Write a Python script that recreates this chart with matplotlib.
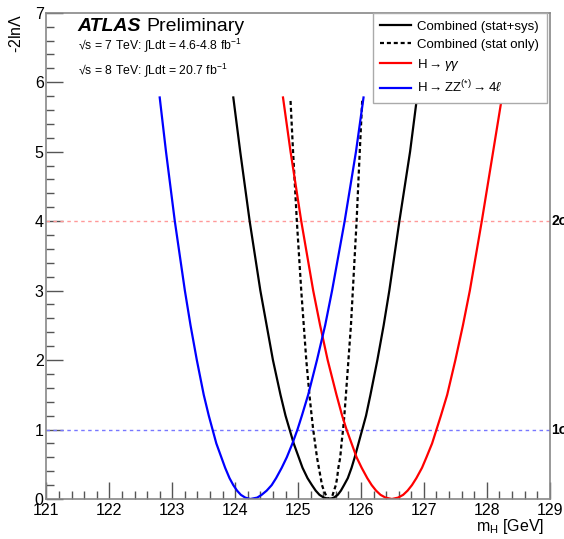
import numpy as np
import matplotlib
matplotlib.use("Agg")
import matplotlib.pyplot as plt

plt.rcParams['font.family'] = ['Liberation Sans', 'DejaVu Sans']
plt.rcParams['mathtext.fontset'] = 'custom'
plt.rcParams['mathtext.rm'] = 'Liberation Sans'
plt.rcParams['mathtext.it'] = 'Liberation Sans:italic'
plt.rcParams['mathtext.bf'] = 'Liberation Sans:bold'

# -2lnL scan points (left branch, minimum, right branch)
y_lvl = [5.78, 5.0, 4.0, 3.0, 2.5, 2.0, 1.5, 1.2, 1.0, 0.8, 0.6, 0.45, 0.3, 0.2, 0.12, 0.06, 0.02, 0.0,
         0.02, 0.06, 0.12, 0.2, 0.3, 0.45, 0.6, 0.8, 1.0, 1.2, 1.5, 2.0, 2.5, 3.0, 4.0, 5.0, 5.78]
mh_zz = [122.80, 122.90, 123.04, 123.20, 123.29, 123.39, 123.50, 123.58, 123.64, 123.70, 123.78, 123.84,
         123.91, 123.97, 124.03, 124.09, 124.16, 124.24,
         124.35, 124.42, 124.50, 124.58, 124.65, 124.74, 124.82, 124.91, 124.99, 125.06, 125.16, 125.30,
         125.43, 125.54, 125.74, 125.92, 126.04]
mh_comb = [123.97, 124.08, 124.23, 124.40, 124.50, 124.60, 124.72, 124.80, 124.865, 124.93, 125.01, 125.07,
           125.15, 125.22, 125.28, 125.34, 125.41, 125.50,
           125.57, 125.63, 125.68, 125.73, 125.79, 125.85, 125.90, 125.96, 126.02, 126.08, 126.15, 126.26,
           126.36, 126.45, 126.61, 126.78, 126.89]
mh_gg = [124.76, 124.88, 125.05, 125.24, 125.35, 125.47, 125.61, 125.70, 125.77, 125.85, 125.93, 126.01,
         126.10, 126.17, 126.24, 126.31, 126.39, 126.49,
         126.59, 126.67, 126.74, 126.81, 126.88, 126.97, 127.04, 127.13, 127.20, 127.27, 127.37, 127.50,
         127.62, 127.73, 127.92, 128.10, 128.24]
y_stat = [5.73, 5.0, 4.0, 3.0, 2.5, 2.0, 1.5, 1.2, 1.0, 0.8, 0.6, 0.45, 0.3, 0.2, 0.12, 0.06, 0.02, 0.0,
          0.02, 0.06, 0.12, 0.2, 0.3, 0.45, 0.6, 0.8, 1.0, 1.2, 1.5, 2.0, 2.5, 3.0, 4.0, 5.0, 5.75]
mh_stat = [124.88, 124.92, 124.98, 125.05, 125.09, 125.13, 125.18, 125.215, 125.24, 125.27, 125.30, 125.33,
           125.36, 125.38, 125.41, 125.44, 125.46, 125.50,
           125.53, 125.55, 125.57, 125.60, 125.62, 125.64, 125.67, 125.69, 125.715, 125.735, 125.76, 125.80,
           125.84, 125.87, 125.93, 125.98, 126.02]

sigma_levels = [1, 4]
sigma_labels = ["1σ", "2σ"]
sigma_colors = ["#7777ff", "#ff9999"]

fig = plt.figure(figsize=(5.64, 5.39), dpi=100)
ax = fig.add_axes([0.0824, 0.0742, 0.8923, 0.9022])

for lev, col in zip(sigma_levels, sigma_colors):
    ax.axhline(lev, color=col, lw=1.0, dashes=(2.5, 2.5))

ax.plot(mh_comb, y_lvl, color='black', lw=1.6, label='Combined (stat+sys)')
ax.plot(mh_stat, y_stat, color='black', lw=1.6, dashes=(1.8, 1.3), label='Combined (stat only)')
ax.plot(mh_gg, y_lvl, color='red', lw=1.6, label=r'H$\rightarrow\gamma\gamma$')
ax.plot(mh_zz, y_lvl, color='blue', lw=1.6, label=r'H$\rightarrow$ZZ$^{(*)}\rightarrow$4$\ell$')

ax.set_xlim(121, 129)
ax.set_ylim(0, 7)
ax.set_xticks(np.arange(121, 130, 1))
ax.set_xticks(np.arange(121, 129.01, 0.2), minor=True)
ax.set_yticks(np.arange(0, 8, 1))
ax.set_yticks(np.arange(0, 7.01, 0.2), minor=True)
ax.tick_params(which='both', direction='in', color='#555555', top=False, right=False,
               labelsize=11.5)
ax.tick_params(which='major', length=12, width=1.0)
ax.tick_params(which='minor', length=6, width=1.0)
ax.tick_params(axis='x', pad=3)
ax.tick_params(axis='y', pad=2)
for s in ax.spines.values():
    s.set_color('#888888')
    s.set_linewidth(1.2)

for lev, lab in zip(sigma_levels, sigma_labels):
    ax.text(1.003, lev, lab, transform=ax.get_yaxis_transform(), ha='left', va='center',
            fontsize=10, fontweight='bold', clip_on=False)

ax.text(0.062, 0.971, 'ATLAS', transform=ax.transAxes, fontsize=14, fontweight='bold',
        style='italic', va='center')
ax.text(0.198, 0.971, 'Preliminary', transform=ax.transAxes, fontsize=14, va='center')
ax.text(0.062, 0.934, '√s = 7 TeV: ∫Ldt = 4.6-4.8 fb$^{-1}$',
        transform=ax.transAxes, fontsize=8.8, va='center')
ax.text(0.062, 0.882, '√s = 8 TeV: ∫Ldt = 20.7 fb$^{-1}$',
        transform=ax.transAxes, fontsize=8.8, va='center')

leg = ax.legend(loc='upper right', bbox_to_anchor=(0.995, 1.0), fontsize=9.5,
                frameon=True, fancybox=False, edgecolor='#aaaaaa', framealpha=1,
                handlelength=2.3, handletextpad=0.5, labelspacing=0.45,
                borderpad=0.6, borderaxespad=0.0)
leg.get_frame().set_linewidth(1.0)

fig.text(0.965, 0.024, r'm$_{\rm H}$ [GeV]', ha='right', va='center', fontsize=11.5)
fig.text(0.028, 0.975, r'-2ln$\Lambda$', ha='center', va='top', rotation=90, fontsize=11.5)

fig.savefig('out.png', dpi=100)
